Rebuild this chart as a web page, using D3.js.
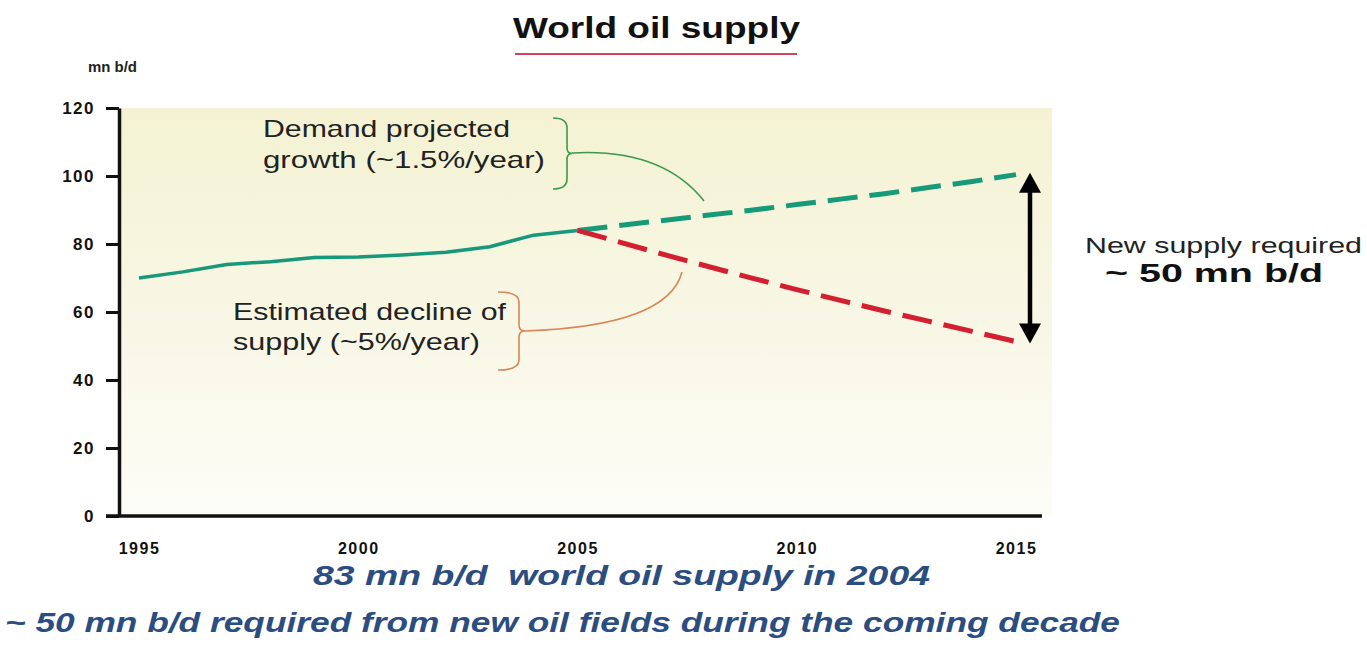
<!DOCTYPE html>
<html>
<head>
<meta charset="utf-8">
<script src="https://cdn.jsdelivr.net/npm/d3@7"></script>
<style>
  html, body { margin: 0; padding: 0; background: #ffffff; }
  svg { display: block; font-family: "Liberation Sans", Arial, sans-serif; }
</style>
</head>
<body>
<svg id="chart" width="1367" height="664"></svg>
<script>
// Historical world oil supply (mn b/d)
const histYears  = [1995, 1996, 1997, 1998, 1999, 2000, 2001, 2002, 2003, 2004, 2005];
const histSupply = [70.0, 71.8, 74.0, 74.8, 76.0, 76.2, 76.8, 77.6, 79.2, 82.6, 84.0];

// Projections 2005-2015
const projYears   = [2005, 2006, 2007, 2008, 2009, 2010, 2011, 2012, 2013, 2014, 2015];
const demandProj  = [84.0, 85.5, 87.0, 88.5, 90.0, 91.6, 93.2, 94.8, 96.6, 98.4, 100.4];
const supplyProj  = [84.0, 80.4, 76.8, 73.3, 69.9, 66.6, 63.4, 60.3, 57.3, 54.3, 51.3];

const xTicks = [1995, 2000, 2005, 2010, 2015];
const yTicks = [0, 20, 40, 60, 80, 100, 120];

const svg = d3.select("#chart");

const x = d3.scaleLinear().domain([1995, 2015]).range([139, 1016]);
const y = d3.scaleLinear().domain([0, 120]).range([516, 108]);
const axisX0 = 119;

// Plot background gradient
const defs = svg.append("defs");
const grad = defs.append("linearGradient").attr("id", "bg")
  .attr("x1", 0).attr("y1", 0).attr("x2", 0).attr("y2", 1);
grad.append("stop").attr("offset", "0%").attr("stop-color", "#f4f2d2");
grad.append("stop").attr("offset", "55%").attr("stop-color", "#f8f7e6");
grad.append("stop").attr("offset", "100%").attr("stop-color", "#fdfdf8");

svg.append("rect")
  .attr("x", axisX0).attr("y", y(120))
  .attr("width", 933).attr("height", y(0) - y(120))
  .attr("fill", "url(#bg)");

// Title
svg.append("text")
  .attr("x", 513).attr("y", 38)
  .attr("textLength", 287).attr("lengthAdjust", "spacingAndGlyphs")
  .attr("font-size", 29).attr("font-weight", "bold").attr("fill", "#111")
  .text("World oil supply");
svg.append("line")
  .attr("x1", 515).attr("x2", 797).attr("y1", 54).attr("y2", 54)
  .attr("stroke", "#d0455a").attr("stroke-width", 2);

// Unit label
svg.append("text")
  .attr("x", 88).attr("y", 72)
  .attr("textLength", 49).attr("lengthAdjust", "spacingAndGlyphs")
  .attr("font-size", 14).attr("font-weight", "bold").attr("fill", "#222")
  .text("mn b/d");

// Y axis
const yAxis = svg.append("g")
  .attr("transform", `translate(${axisX0},0)`)
  .call(d3.axisLeft(y).tickValues(yTicks).tickSize(13).tickSizeOuter(0).tickPadding(11));
yAxis.select(".domain").attr("stroke", "#111").attr("stroke-width", 3.5);
yAxis.selectAll(".tick line").attr("stroke", "#111").attr("stroke-width", 3);
yAxis.selectAll(".tick text")
  .attr("font-family", "'Liberation Sans', Arial, sans-serif")
  .attr("font-size", 17).attr("font-weight", "bold").attr("fill", "#111")
  .attr("letter-spacing", 1.5);

// X axis
const xAxis = svg.append("g")
  .attr("transform", `translate(0,${y(0)})`)
  .call(d3.axisBottom(x).tickValues(xTicks).tickSize(0).tickPadding(27).tickFormat(d3.format("d")));
xAxis.select(".domain").remove();
xAxis.selectAll(".tick text")
  .attr("font-family", "'Liberation Sans', Arial, sans-serif")
  .attr("font-size", 16).attr("font-weight", "bold").attr("fill", "#111")
  .attr("letter-spacing", 1.5);
svg.append("line")
  .attr("x1", 106).attr("x2", 1042)
  .attr("y1", y(0)).attr("y2", y(0))
  .attr("stroke", "#111").attr("stroke-width", 3.5);

const line = d3.line().x(d => x(d[0])).y(d => y(d[1]));

// Historical supply (solid)
svg.append("path")
  .datum(histYears.map((yr, i) => [yr, histSupply[i]]))
  .attr("d", line)
  .attr("fill", "none").attr("stroke", "#16987a").attr("stroke-width", 3.5)
  .attr("stroke-linejoin", "round");

// Demand projection (dashed green)
svg.append("path")
  .datum(projYears.map((yr, i) => [yr, demandProj[i]]))
  .attr("d", line)
  .attr("fill", "none").attr("stroke", "#169a7a").attr("stroke-width", 5)
  .attr("stroke-dasharray", "30,12");

// Supply decline projection (dashed red)
svg.append("path")
  .datum(projYears.map((yr, i) => [yr, supplyProj[i]]))
  .attr("d", line)
  .attr("fill", "none").attr("stroke", "#d41f30").attr("stroke-width", 5)
  .attr("stroke-dasharray", "30,12");

// Gap arrow between projected demand and projected supply in 2015
const last = projYears.length - 1;
const ax = x(2015) + 14;
const yTop = y(demandProj[last]);
const yBot = y(supplyProj[last]);
svg.append("line")
  .attr("x1", ax).attr("x2", ax)
  .attr("y1", yTop + 14).attr("y2", yBot - 14)
  .attr("stroke", "#000").attr("stroke-width", 4.5);
svg.append("path")
  .attr("d", `M${ax},${yTop - 2} L${ax - 11},${yTop + 18} L${ax + 11},${yTop + 18} Z`)
  .attr("fill", "#000");
svg.append("path")
  .attr("d", `M${ax},${yBot + 2} L${ax - 11},${yBot - 18} L${ax + 11},${yBot - 18} Z`)
  .attr("fill", "#000");

// Annotation text
const ann = svg.append("g").attr("fill", "#222").attr("font-size", 24);
ann.append("text").attr("x", 263).attr("y", 137)
  .attr("textLength", 247).attr("lengthAdjust", "spacingAndGlyphs").text("Demand projected");
ann.append("text").attr("x", 263).attr("y", 168)
  .attr("textLength", 282).attr("lengthAdjust", "spacingAndGlyphs").text("growth (~1.5%/year)");
ann.append("text").attr("x", 233).attr("y", 320)
  .attr("textLength", 273).attr("lengthAdjust", "spacingAndGlyphs").text("Estimated decline of");
ann.append("text").attr("x", 233).attr("y", 350)
  .attr("textLength", 247).attr("lengthAdjust", "spacingAndGlyphs").text("supply (~5%/year)");

// Braces with leader curves
function brace(xl, xr, yt, yb, tipX) {
  const ym = (yt + yb) / 2;
  const r = 6;
  return `M${xl},${yt} Q${xr},${yt} ${xr},${yt + r + 4}` +
         ` L${xr},${ym - r}` +
         ` Q${xr},${ym} ${tipX},${ym}` +
         ` Q${xr},${ym} ${xr},${ym + r}` +
         ` L${xr},${yb - r - 4}` +
         ` Q${xr},${yb} ${xl},${yb}`;
}
svg.append("path")
  .attr("d", brace(553, 567, 118, 189, 572) + " M572,153 Q662,148 704,201")
  .attr("fill", "none").attr("stroke", "#3a9a4c").attr("stroke-width", 1.6);
svg.append("path")
  .attr("d", brace(498, 519, 292, 370, 525) + " M525,331 Q668,326 682,272")
  .attr("fill", "none").attr("stroke", "#d98555").attr("stroke-width", 1.6);

// Right-hand callout
svg.append("text").attr("x", 1085).attr("y", 253)
  .attr("font-size", 22).attr("fill", "#222")
  .attr("textLength", 277).attr("lengthAdjust", "spacingAndGlyphs")
  .text("New supply required");
svg.append("text").attr("x", 1105).attr("y", 282)
  .attr("font-size", 26).attr("font-weight", "bold").attr("fill", "#111")
  .attr("textLength", 218).attr("lengthAdjust", "spacingAndGlyphs")
  .text("~ 50 mn b/d");

// Bottom summary
svg.append("text").attr("x", 313).attr("y", 585)
  .attr("font-size", 27).attr("font-weight", "bold").attr("font-style", "italic")
  .attr("fill", "#2c4d80")
  .attr("textLength", 617).attr("lengthAdjust", "spacingAndGlyphs")
  .attr("xml:space", "preserve")
  .text("83 mn b/d  world oil supply in 2004");
svg.append("text").attr("x", 5).attr("y", 632)
  .attr("font-size", 27).attr("font-weight", "bold").attr("font-style", "italic")
  .attr("fill", "#2c4d80")
  .attr("textLength", 1115).attr("lengthAdjust", "spacingAndGlyphs")
  .text("~ 50 mn b/d required from new oil fields during the coming decade");
</script>
</body>
</html>
